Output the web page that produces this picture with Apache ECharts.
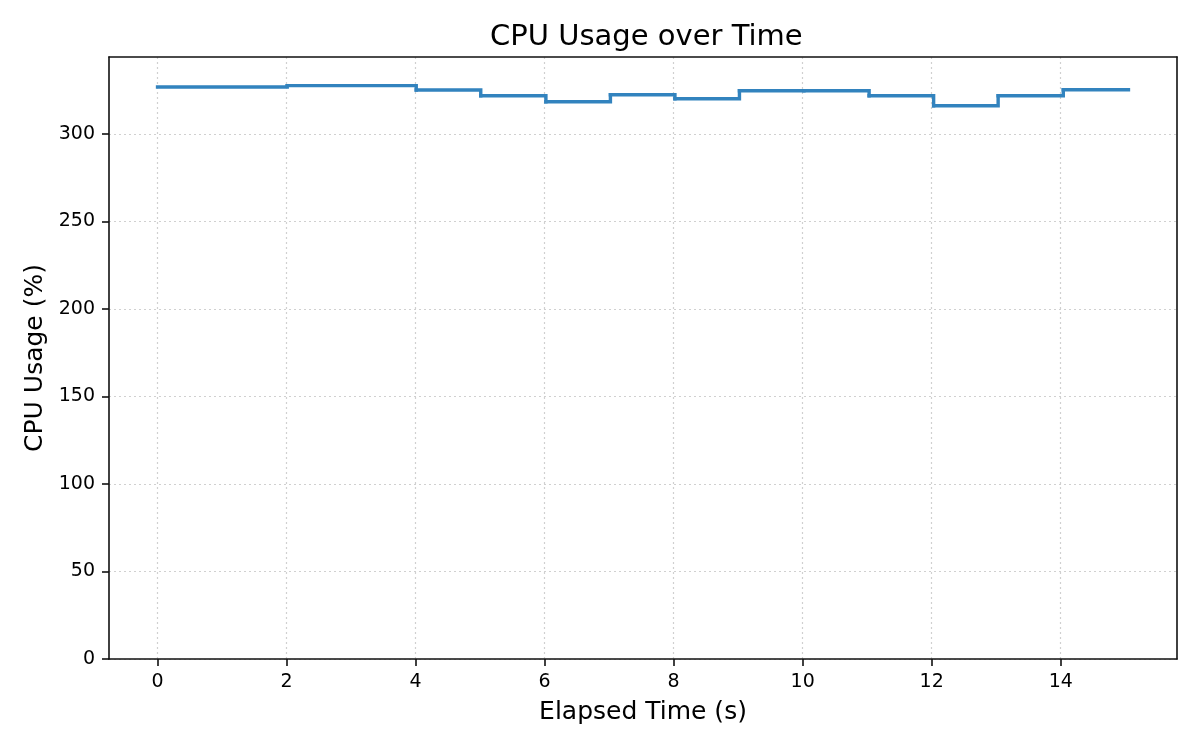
<!DOCTYPE html>
<html>
<head>
<meta charset="utf-8">
<title>CPU Usage over Time</title>
<script src="https://cdn.jsdelivr.net/npm/echarts@6/dist/echarts.min.js"></script>
<style>
  html, body { margin: 0; padding: 0; background: #fff; }
  #container { width: 1200px; height: 750px; }
</style>
</head>
<body>
<div id="container"></div>
<script>
// samples (seconds, percent)
var elapsed = [0, 2.01, 4.01, 5.01, 6.02, 7.02, 8.02, 9.02, 10.02, 11.03, 12.03, 13.03, 14.04, 15.05];
var cpuUsage = [326.7, 327.5, 325.0, 321.7, 318.3, 322.3, 320.0, 324.6, 324.6, 321.7, 316.0, 321.7, 325.2, 325.2];
var xTicks = [0, 2, 4, 6, 8, 10, 12, 14];
var yTicks = [0, 50, 100, 150, 200, 250, 300];

var font = 'DejaVu Sans';
var lineColor = '#3283be';
var dom = document.getElementById('container');
var myChart = echarts.init(dom, null, { renderer: 'canvas' });

var tEnd = elapsed[elapsed.length - 1];
var xMin = -0.05 * tEnd;
var xMax = tEnd * 1.05;
var yMax = Math.max.apply(null, cpuUsage) * 1.05;

var points = [];
for (var i = 0; i < elapsed.length; i++) {
	points.push([elapsed[i], cpuUsage[i]]);
}

// step "post": hold each value until the next sample
// (custom series, the line series drops the tiny 1px steps)
function renderStep(params, api) {
	var i = params.dataIndex;
	if (i >= points.length - 1) {
		return null;
	}
	var a = api.coord([points[i][0], points[i][1]]);
	var b = api.coord([points[i + 1][0], points[i][1]]);
	var c = api.coord([points[i + 1][0], points[i + 1][1]]);
	return {
		type: 'polyline',
		shape: { points: [a, b, c] },
		style: { fill: null, stroke: lineColor, lineWidth: 3.4, lineCap: 'square', lineJoin: 'miter' },
		silent: true
	};
}

var gridLine = {
	show: true,
	lineStyle: { color: '#d0d0d0', width: 1.2, type: [2, 3] }
};

option = {
	animation: false,
	backgroundColor: '#ffffff',
	title: {
		text: 'CPU Usage over Time',
		left: 485,
		top: 18,
		textStyle: { fontFamily: font, fontSize: 29, fontWeight: 'normal', color: '#000' }
	},
	grid: {
		left: 109,
		right: 23,
		top: 57,
		bottom: 91,
		containLabel: false,
		outerBoundsMode: 'none'
	},
	xAxis: [{
		type: 'value',
		min: xMin,
		max: xMax,
		name: 'Elapsed Time (s)',
		nameLocation: 'middle',
		nameGap: 41,
		nameTextStyle: { fontFamily: font, fontSize: 25, color: '#000' },
		axisLine: { show: true, onZero: false, lineStyle: { color: '#111', width: 1.6 } },
		axisTick: { show: true, length: 7, lineStyle: { color: '#111', width: 1.6 }, customValues: xTicks },
		axisLabel: { margin: 14, fontFamily: font, fontSize: 19, color: '#000', customValues: xTicks },
		splitLine: gridLine
	}, {
		type: 'value',
		position: 'top',
		min: xMin,
		max: xMax,
		axisLine: { show: true, onZero: false, lineStyle: { color: '#111', width: 1.6 } },
		axisTick: { show: false },
		axisLabel: { show: false },
		splitLine: { show: false }
	}],
	yAxis: [{
		type: 'value',
		min: 0,
		max: yMax,
		name: 'CPU Usage (%)',
		nameLocation: 'middle',
		nameGap: 60,
		nameTextStyle: { fontFamily: font, fontSize: 25, color: '#000' },
		axisLine: { show: true, onZero: false, lineStyle: { color: '#111', width: 1.6 } },
		axisTick: { show: true, length: 7, lineStyle: { color: '#111', width: 1.6 }, customValues: yTicks },
		axisLabel: { margin: 14, fontFamily: font, fontSize: 19, color: '#000', customValues: yTicks },
		splitLine: gridLine
	}, {
		type: 'value',
		position: 'right',
		min: 0,
		max: yMax,
		axisLine: { show: true, onZero: false, lineStyle: { color: '#111', width: 1.6 } },
		axisTick: { show: false },
		axisLabel: { show: false },
		splitLine: { show: false }
	}],
	series: [{
		name: 'CPU Usage',
		type: 'custom',
		renderItem: renderStep,
		data: points,
		encode: { x: 0, y: 1 },
		xAxisIndex: 0,
		yAxisIndex: 0,
		clip: true,
		z: 3
	}]
};

if (option && typeof option === 'object') {
	myChart.setOption(option, true);
}
</script>
</body>
</html>
